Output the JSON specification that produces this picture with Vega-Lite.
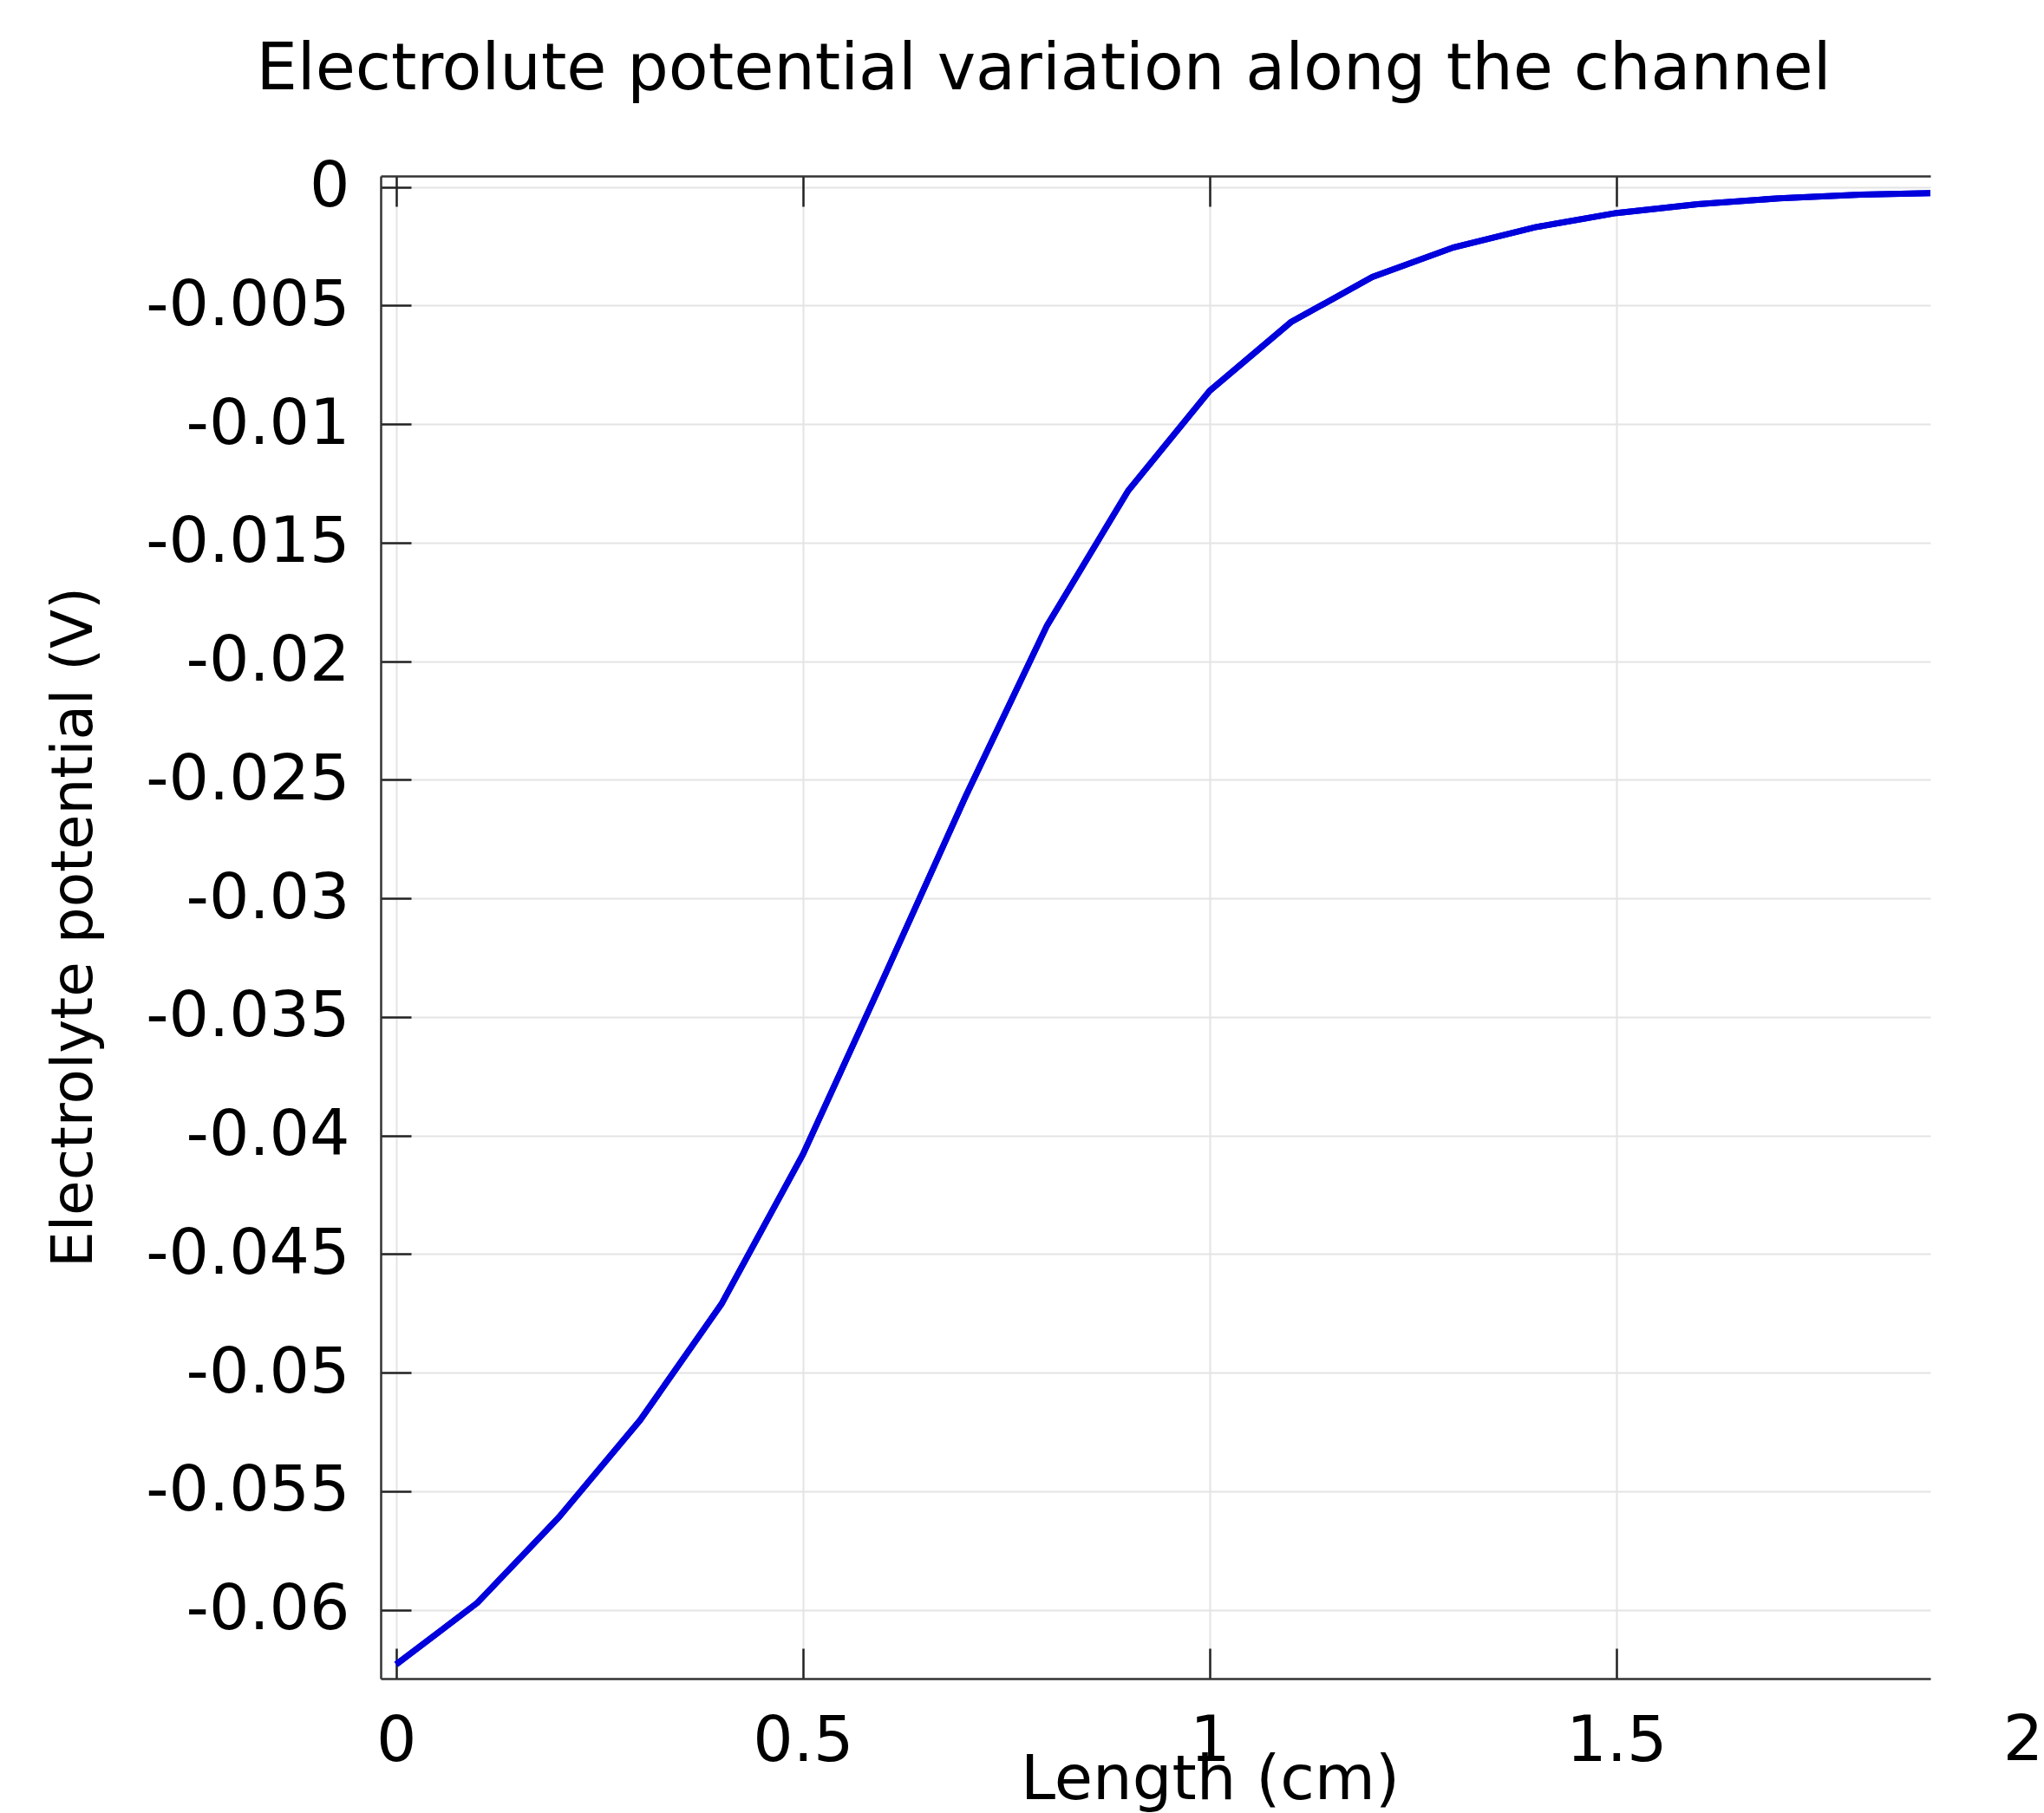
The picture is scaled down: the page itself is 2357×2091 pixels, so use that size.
{
  "$schema": "https://vega.github.io/schema/vega-lite/v6.json",
  "width": 1787,
  "height": 1733,
  "autosize": {"type": "none"},
  "padding": {"left": 439, "top": 203, "right": 131, "bottom": 155},
  "background": "white",
  "config": {
    "font": "DejaVu Sans",
    "view": {"stroke": null},
    "axis": {
      "labelFont": "DejaVu Sans",
      "titleFont": "DejaVu Sans",
      "labelColor": "black",
      "titleColor": "black",
      "titleFontWeight": "normal",
      "labelLimit": 0,
      "gridColor": "#e4e4e4",
      "gridWidth": 2,
      "tickColor": "#222222",
      "tickWidth": 2.5,
      "domainColor": "#333333",
      "domainWidth": 2.5
    }
  },
  "title": {
    "text": "Electrolute potential variation along the channel",
    "font": "DejaVu Sans",
    "fontSize": 75,
    "fontWeight": "normal",
    "color": "black",
    "anchor": "middle",
    "frame": "group",
    "dx": -129,
    "baseline": "alphabetic",
    "offset": 2
  },
  "data": {
    "values": [
      {"length": 0.0, "potential": -0.0623},
      {"length": 0.1, "potential": -0.0597},
      {"length": 0.2, "potential": -0.0561},
      {"length": 0.3, "potential": -0.0520},
      {"length": 0.4, "potential": -0.0471},
      {"length": 0.5, "potential": -0.0408},
      {"length": 0.6, "potential": -0.0333},
      {"length": 0.7, "potential": -0.0257},
      {"length": 0.8, "potential": -0.0185},
      {"length": 0.9, "potential": -0.0128},
      {"length": 1.0, "potential": -0.0086},
      {"length": 1.1, "potential": -0.0057},
      {"length": 1.2, "potential": -0.0038},
      {"length": 1.3, "potential": -0.00255},
      {"length": 1.4, "potential": -0.0017},
      {"length": 1.5, "potential": -0.0011},
      {"length": 1.6, "potential": -0.00073},
      {"length": 1.7, "potential": -0.00048},
      {"length": 1.8, "potential": -0.00033},
      {"length": 1.9, "potential": -0.00025}
    ]
  },
  "resolve": {"axis": {"x": "independent", "y": "independent"}},
  "layer": [
    {
      "mark": {"type": "line", "color": "#0000dd", "strokeWidth": 7, "clip": true},
      "encoding": {
        "x": {
          "field": "length",
          "type": "quantitative",
          "scale": {"domain": [-0.019, 1.886], "nice": false, "zero": false},
          "axis": {
            "orient": "bottom",
            "title": "Length (cm)",
            "titleFontSize": 72,
            "titleX": 956,
            "titleY": 138,
            "titleAlign": "center",
            "titleBaseline": "alphabetic",
            "values": [0, 0.5, 1, 1.5],
            "labelExpr": "'' + datum.value",
            "labelFontSize": 73,
            "labelBaseline": "top",
            "tickSize": -35,
            "labelPadding": 71,
            "labelFlush": false,
            "labelOverlap": false,
            "grid": true,
            "domain": true
          }
        },
        "y": {
          "field": "potential",
          "type": "quantitative",
          "scale": {"domain": [-0.0629, 0.00046], "nice": false, "zero": false},
          "axis": {
            "orient": "left",
            "title": "Electrolyte potential (V)",
            "titleFontSize": 66,
            "titleAngle": -90,
            "titleX": -334,
            "titleY": 866,
            "titleAlign": "center",
            "titleBaseline": "alphabetic",
            "values": [-0.06, -0.055, -0.05, -0.045, -0.04, -0.035, -0.03, -0.025, -0.02, -0.015, -0.01, -0.005, 0],
            "labelExpr": "'' + datum.value",
            "labelFontSize": 73,
            "tickSize": -35,
            "labelPadding": 71,
            "labelFlush": false,
            "labelOverlap": false,
            "grid": true,
            "domain": true
          }
        }
      }
    },
    {
      "mark": {"type": "line", "color": "#0000dd", "strokeWidth": 7, "clip": true},
      "encoding": {
        "x": {
          "field": "length",
          "type": "quantitative",
          "axis": {
            "orient": "top",
            "title": null,
            "values": [0, 0.5, 1, 1.5],
            "labels": false,
            "tickSize": -35,
            "grid": false,
            "domain": true
          }
        },
        "y": {
          "field": "potential",
          "type": "quantitative",
          "axis": null
        }
      }
    },
    {
      "data": {"values": [{"length": 2, "label": "2"}]},
      "mark": {"type": "text", "fontSize": 73, "baseline": "top", "align": "center", "dy": 36, "color": "black", "font": "DejaVu Sans"},
      "encoding": {
        "x": {"field": "length", "type": "quantitative", "axis": null},
        "y": {"datum": -0.0629, "type": "quantitative", "axis": null},
        "text": {"field": "label"}
      }
    }
  ]
}
